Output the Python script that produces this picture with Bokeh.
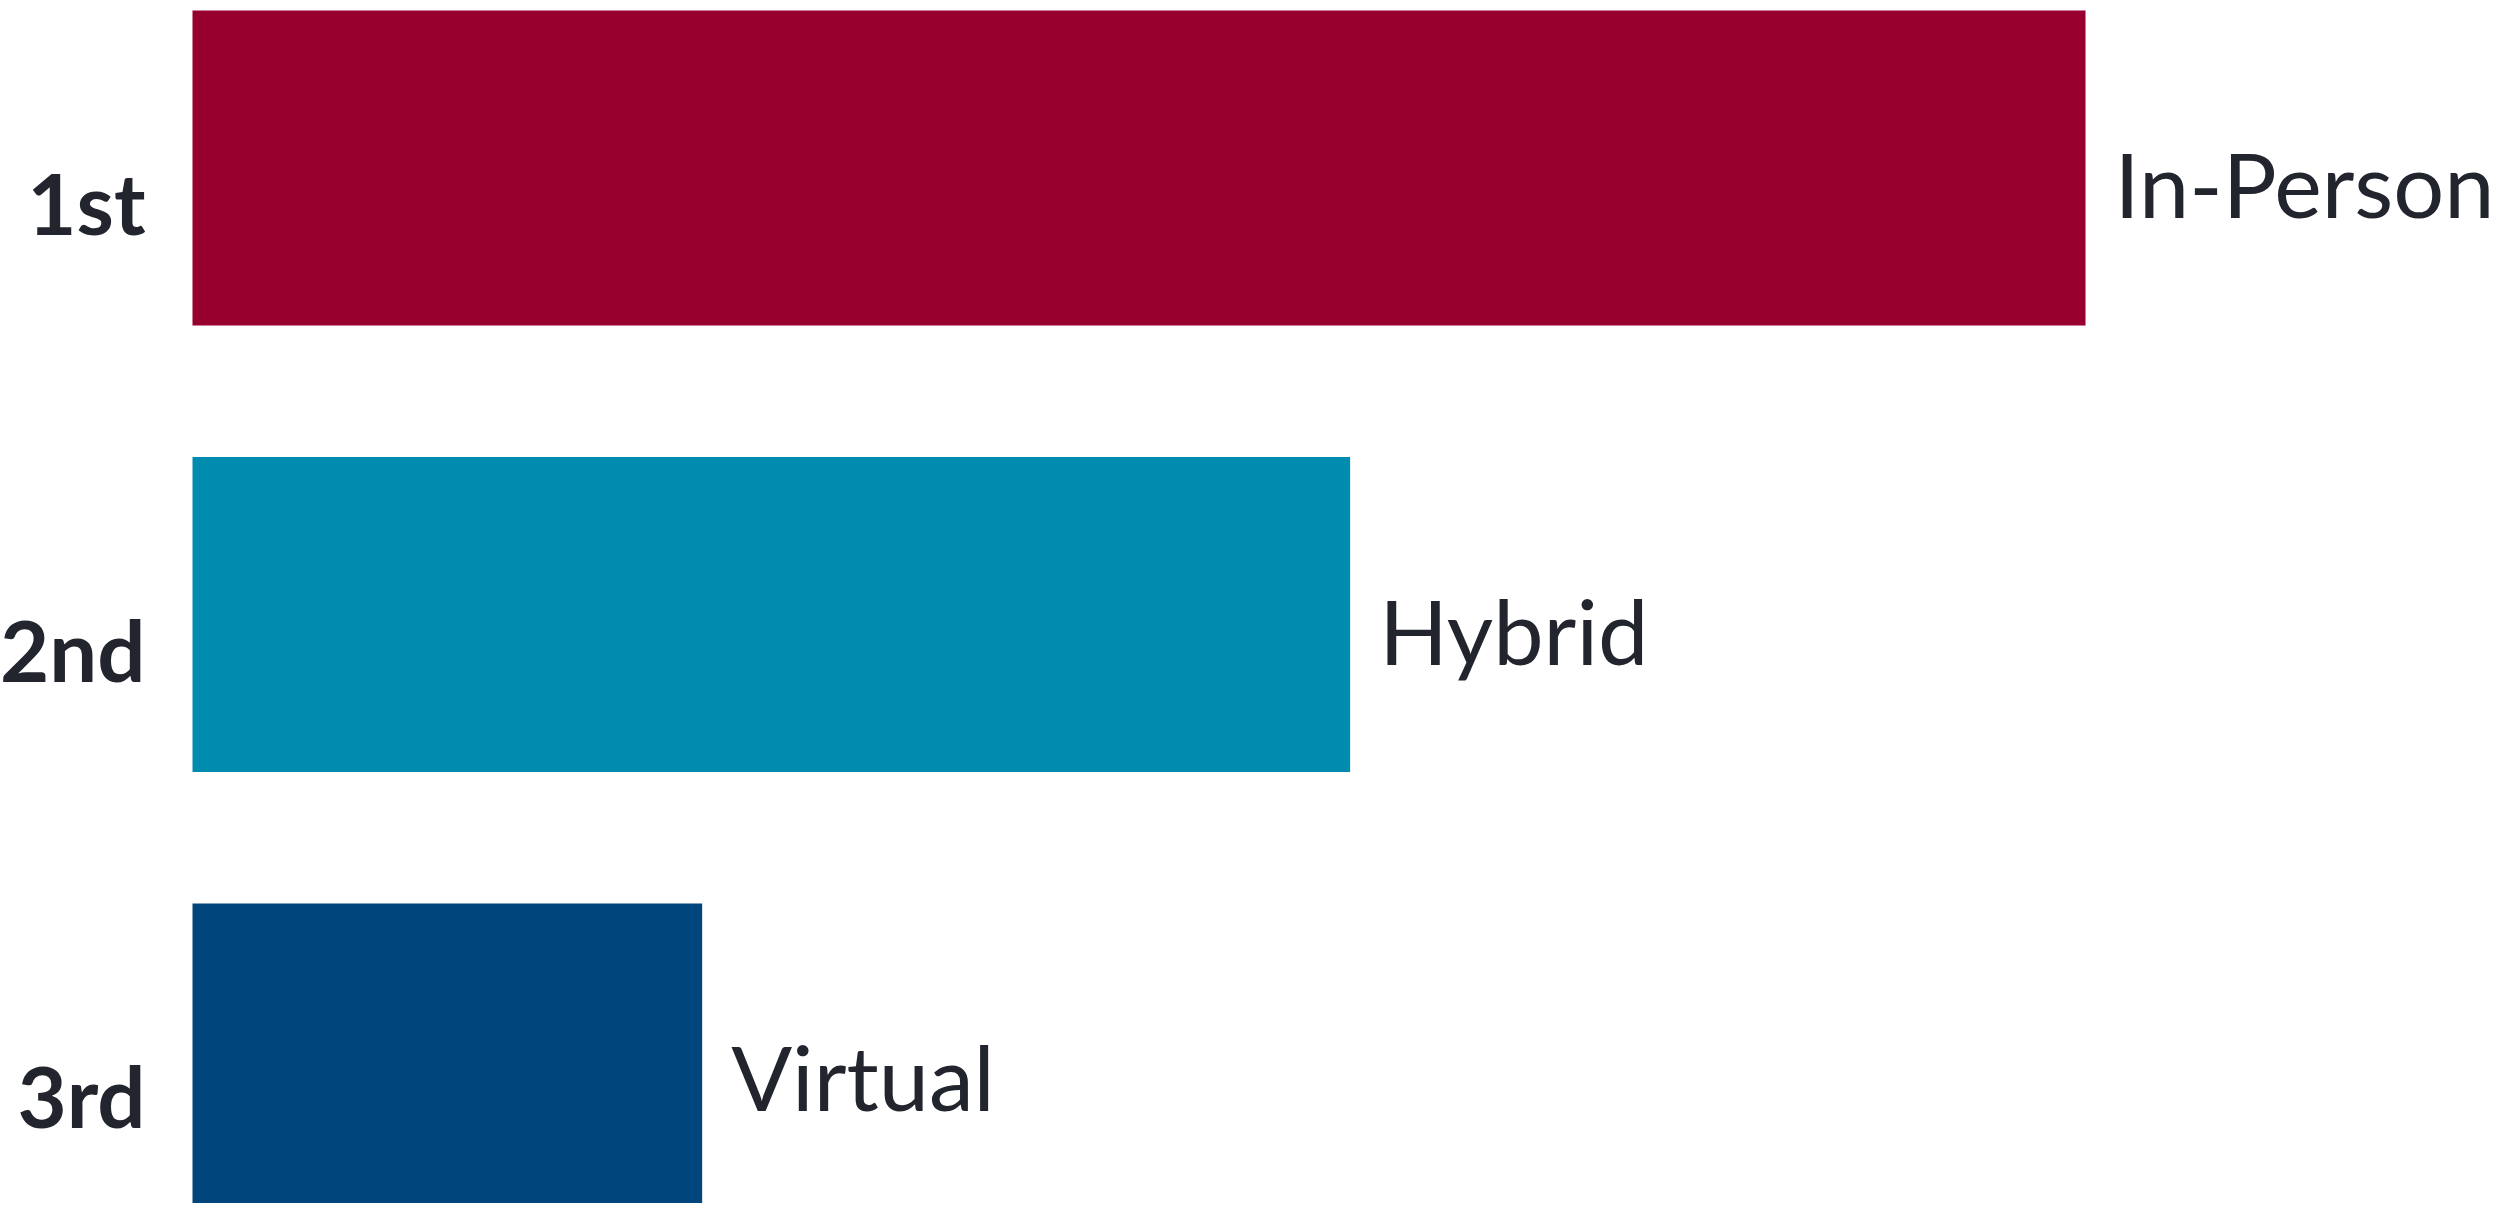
from bokeh.plotting import figure
from bokeh.models import Range1d, ColumnDataSource
from bokeh.core.properties import value
from bokeh.embed import file_html
from bokeh.resources import INLINE

# Data
ranks = [1, 2, 3]
rank_labels = ["1st", "2nd", "3rd"]
formats = ["In-Person", "Hybrid", "Virtual"]
scores = [52.0, 31.8, 14.0]
colors = ["#97002E", "#008CAF", "#00457B"]

W, H = 2500, 1203
px_per_unit_x = 1893 / scores[0]
bar_left_px = 192
px_per_rank = 446.5
first_center_px = 167.5

x_start = -bar_left_px / px_per_unit_x
x_end = (W - bar_left_px) / px_per_unit_x
y_top = 1 - first_center_px / px_per_rank
y_bottom = 1 + (H - first_center_px) / px_per_rank

src = ColumnDataSource(dict(rank=ranks, label=rank_labels, fmt=formats,
                            score=scores, color=colors,
                            zero=[0] * len(ranks)))

p = figure(width=W, height=H, output_backend="svg", toolbar_location=None,
           x_range=Range1d(x_start, x_end), y_range=Range1d(y_bottom, y_top),
           min_border=0, outline_line_color=None, background_fill_color="white",
           border_fill_color="white")
p.axis.visible = False
p.grid.visible = False

p.hbar(y="rank", left="zero", right="score", height=0.705, color="color",
       line_color=None, source=src)

p.text(x="zero", y="rank", text="label", source=src, text_align="right",
       text_baseline="alphabetic", x_offset=-47, y_offset=34,
       text_font=value("Lato"), text_font_style="bold",
       text_font_size="85px", text_color="#22252e")

p.text(x="score", y="rank", text="fmt", source=src, text_align="left",
       text_baseline="alphabetic", x_offset=29, y_offset=15,
       text_font=value("Lato"), text_font_size="90px", text_color="#22252e")

open("out.html", "w").write(file_html(p, INLINE))
